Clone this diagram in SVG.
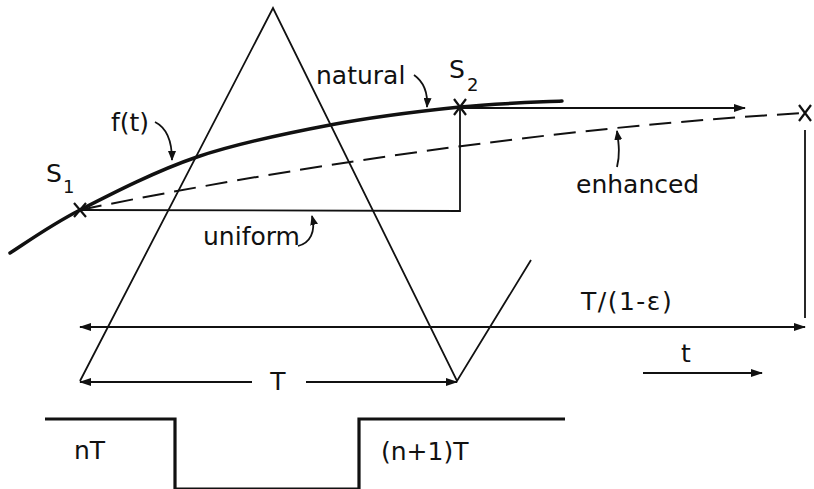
<svg xmlns="http://www.w3.org/2000/svg" width="814" height="489" viewBox="0 0 814 489">
<style>
.ln{fill:none;stroke:#111;stroke-width:1.8}
.thick{fill:none;stroke:#111;stroke-width:3.5;stroke-linecap:round}
.sq{fill:none;stroke:#111;stroke-width:3.2}
.dash{fill:none;stroke:#111;stroke-width:2;stroke-dasharray:22 10}
.lead{fill:none;stroke:#111;stroke-width:1.8}
.x{fill:none;stroke:#111;stroke-width:2.2}
text{font-family:"DejaVu Sans","Liberation Sans",sans-serif;fill:#111;font-size:25px}
.sub{font-size:18px}
</style>
<defs>
<marker id="ah" viewBox="0 0 12 10" refX="11" refY="5" markerWidth="12" markerHeight="10" markerUnits="userSpaceOnUse" orient="auto-start-reverse">
<path d="M0,1 L12,5 L0,9 Z" fill="#111"/>
</marker>
<marker id="lh" viewBox="0 0 10 8" refX="9" refY="4" markerWidth="10" markerHeight="8" markerUnits="userSpaceOnUse" orient="auto">
<path d="M0,0 L10,4 L0,8 Z" fill="#111"/>
</marker>
</defs>
<rect width="814" height="489" fill="#fff"/>

<g id="triangle">
<path class="ln" d="M80,381 L273,8 L457,381 L531,260"/>
</g>

<g id="curve-f">
<path class="thick" d="M10,253 C21.7,245.8 48.8,226 80,210 C111.2,194 155.3,171.2 197,157 C238.7,142.8 286.2,133.3 330,125 C373.8,116.7 421.3,111 460,107 C498.7,103 545,102 562,101"/>
</g>

<g id="uniform-path">
<path class="ln" d="M80,210 L460,211 L460,107"/>
</g>

<g id="enhanced-path">
<path class="dash" d="M80,210 C200,185 500,130 805,113"/>
</g>

<g id="markers">
<path class="x" d="M74,203 L86,217 M86,203 L74,217"/>
<path class="x" d="M454,99 L466,115 M466,99 L454,115"/>
<path class="x" d="M799,105 L811,121 M811,105 L799,121"/>
</g>

<g id="connectors">
<path class="ln" d="M460,108 L745,108" marker-end="url(#ah)"/>
<path class="ln" d="M805,130 L805,318"/>
<path class="ln" d="M80,327 L805,327" marker-start="url(#ah)" marker-end="url(#ah)"/>
<path class="ln" d="M80,382 L252,382" marker-start="url(#ah)"/>
<path class="ln" d="M306,382 L457,382" marker-end="url(#ah)"/>
<path class="ln" d="M643,373 L762,373" marker-end="url(#ah)"/>
<path class="lead" d="M155,122 C167,128 172,140 172,160" marker-end="url(#lh)"/>
<path class="lead" d="M414,75 C424,82 428,92 427,107" marker-end="url(#lh)"/>
<path class="lead" d="M617,167 C620,155 619,145 617,131" marker-end="url(#lh)"/>
<path class="lead" d="M298,246 C310,243 316,232 312,216" marker-end="url(#lh)"/>
</g>

<g id="square-wave">
<path class="sq" d="M45,419 L175,419 L175,489 L359,489 L359,419 L565,419"/>
</g>

<g id="labels">
<text x="46" y="182" font-size="27">S</text><text class="sub" x="63" y="193">1</text>
<text x="111" y="131">f(t)</text>
<text x="316" y="84">natural</text>
<text x="449" y="78" font-size="27">S</text><text class="sub" x="467" y="91">2</text>
<text x="576" y="193">enhanced</text>
<text x="203" y="245">uniform</text>
<text x="581" y="310" letter-spacing="1.5">T/(1-ε)</text>
<text x="278" y="390" text-anchor="middle">T</text>
<text x="681" y="362">t</text>
<text x="74" y="459">nT</text>
<text x="381" y="460">(n+1)T</text>
</g>
</svg>
